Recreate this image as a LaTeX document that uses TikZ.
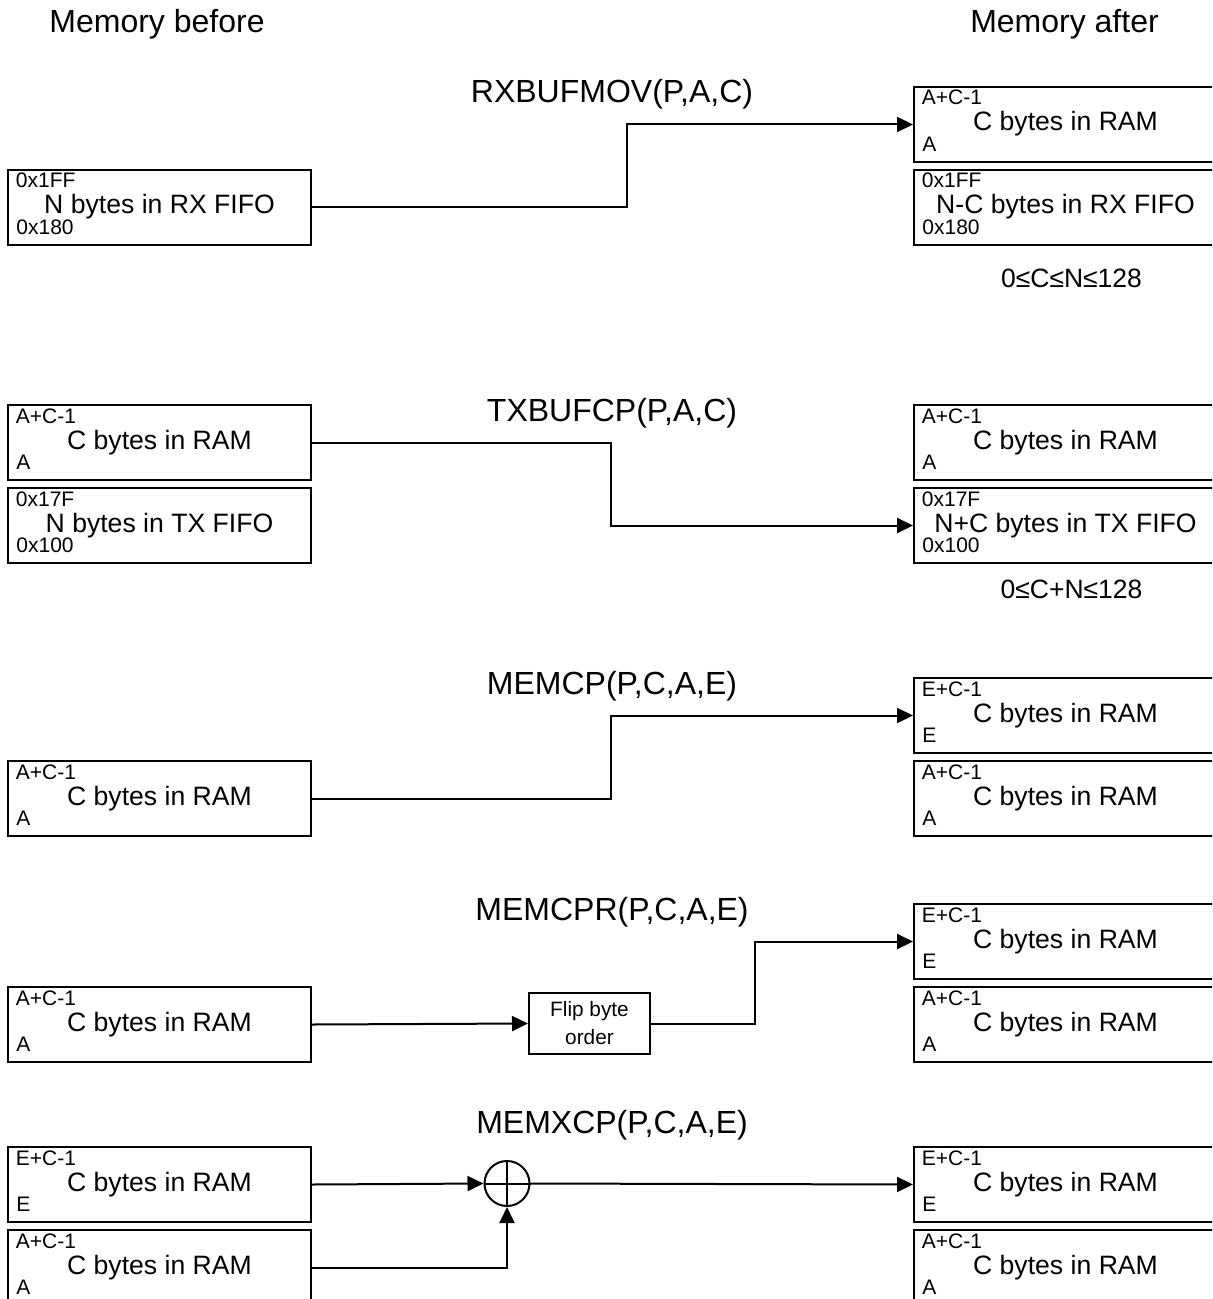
\documentclass[tikz,border=0pt]{standalone}
\usepackage{fontspec}
\setmainfont{Liberation Sans}
\usetikzlibrary{arrows.meta,calc}
\tikzset{
  memb/.style={draw, line width=1pt, rectangle, inner sep=0pt, minimum width=151.5pt,
    text height=22pt, text depth=15.5pt, anchor=north west,
    font=\fontsize{13.3}{15}\selectfont},
  lab/.style={inner sep=0pt, anchor=base west, font=\fontsize{10.5}{12}\selectfont},
  ttl/.style={inner sep=0pt, anchor=base, font=\fontsize{16}{19}\selectfont},
  cons/.style={inner sep=0pt, anchor=base, font=\fontsize{13.25}{15}\selectfont},
  flipbox/.style={draw, line width=1pt, rectangle, inner sep=0pt, minimum width=60.5pt,
    minimum height=30.5pt, align=center, font=\fontsize{10.4}{14}\selectfont},
  xorc/.style={draw, line width=1pt, circle, inner sep=0pt, minimum size=22.5pt},
  conn/.style={line width=1pt},
  arr/.style={line width=1pt, -{Triangle[length=8pt,width=7.5pt]}},
}
\newcommand{\membox}[5]{%
  \node[memb] (#1) at #2 {#4};
  \node[lab] (#1-t) at ([shift={(4.25pt,-9.5pt)}]#1.north west) {#3};
  \node[lab] (#1-b) at ([shift={(4.5pt,-32.75pt)}]#1.north west) {#5};
}
\begin{document}
\begin{tikzpicture}[x=0.5pt,y=-0.5pt]
\useasboundingbox (0,0) rectangle (1212,1299);
\clip (0,0) rectangle (1212,1299);

% headings
\node[ttl] (hb) at (157,33) {Memory before};
\node[ttl] (ha) at (1064.5,33) {Memory after};

% ---------- RXBUFMOV ----------
\node[ttl] (t1) at (612,103) {RXBUFMOV(P,A,C)};
\membox{L1}{(7,169)}{0x1FF}{N bytes in RX FIFO}{0x180}
\membox{R1a}{(913,86)}{A+C-1}{C bytes in RAM}{A}
\membox{R1b}{(913,169)}{0x1FF}{N-C bytes in RX FIFO}{0x180}
\node[cons] (c1) at (1071.5,288) {0≤C≤N≤128};
\coordinate (k1) at (627,0);
\draw[arr] (L1.east) -- (k1 |- L1.east) -- (k1 |- R1a.west) -- (R1a.west);

% ---------- TXBUFCP ----------
\node[ttl] (t2) at (612,421) {TXBUFCP(P,A,C)};
\membox{L2a}{(7,404)}{A+C-1}{C bytes in RAM}{A}
\membox{L2b}{(7,487)}{0x17F}{N bytes in TX FIFO}{0x100}
\membox{R2a}{(913,404)}{A+C-1}{C bytes in RAM}{A}
\membox{R2b}{(913,487)}{0x17F}{N+C bytes in TX FIFO}{0x100}
\node[cons] (c2) at (1071.5,598) {0≤C+N≤128};
\coordinate (k2) at (611,0);
\draw[arr] (L2a.east) -- (k2 |- L2a.east) -- (k2 |- R2b.west) -- (R2b.west);

% ---------- MEMCP ----------
\node[ttl] (t3) at (612,694) {MEMCP(P,C,A,E)};
\membox{L3}{(7,760)}{A+C-1}{C bytes in RAM}{A}
\membox{R3a}{(913,677)}{E+C-1}{C bytes in RAM}{E}
\membox{R3b}{(913,760)}{A+C-1}{C bytes in RAM}{A}
\coordinate (k3) at (611,0);
\draw[arr] (L3.east) -- (k3 |- L3.east) -- (k3 |- R3a.west) -- (R3a.west);

% ---------- MEMCPR ----------
\node[ttl] (t4) at (612,920) {MEMCPR(P,C,A,E)};
\membox{L4}{(7,986)}{A+C-1}{C bytes in RAM}{A}
\membox{R4a}{(913,903)}{E+C-1}{C bytes in RAM}{E}
\membox{R4b}{(913,986)}{A+C-1}{C bytes in RAM}{A}
\node[flipbox] (flip) at (589.5,1023.5) {Flip byte\\order};
\draw[arr] (L4.east) -- (flip.west);
\coordinate (k4) at (755,0);
\draw[arr] (flip.east) -- (k4 |- flip.east) -- (k4 |- R4a.west) -- (R4a.west);

% ---------- MEMXCP ----------
\node[ttl] (t5) at (612,1133) {MEMXCP(P,C,A,E)};
\membox{L5a}{(7,1146)}{E+C-1}{C bytes in RAM}{E}
\membox{L5b}{(7,1229)}{A+C-1}{C bytes in RAM}{A}
\membox{R5a}{(913,1146)}{E+C-1}{C bytes in RAM}{E}
\membox{R5b}{(913,1229)}{A+C-1}{C bytes in RAM}{A}
\node[xorc] (xor) at (507,1183.5) {};
\draw[conn] (xor.north) -- (xor.south) (xor.west) -- (xor.east);
\draw[arr] (L5a.east) -- (xor.west);
\draw[arr] (L5b.east) -- (xor.south |- L5b.east) -- (xor.south);
\draw[arr] (xor.east) -- (R5a.west);
\end{tikzpicture}
\end{document}
